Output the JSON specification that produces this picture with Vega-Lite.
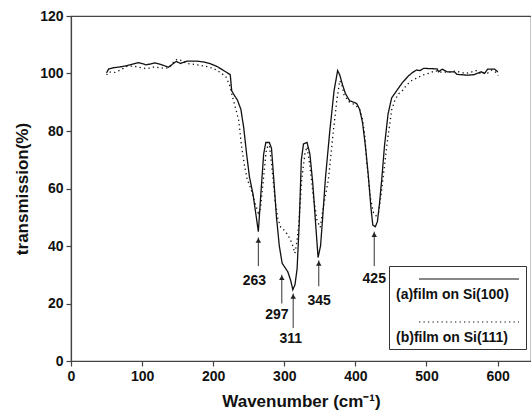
{
  "$schema": "https://vega.github.io/schema/vega-lite/v6.json",
  "width": 460,
  "height": 345,
  "autosize": {"type": "none"},
  "padding": {"left": 71, "top": 16, "right": 0, "bottom": 56},
  "background": "white",
  "config": {
    "view": {"stroke": "#444", "strokeWidth": 1.2},
    "font": "Liberation Sans"
  },
  "datasets": {
    "spectra": [
      {"s": "(a)film on Si(100)", "x": 50, "y": 100.2},
      {"s": "(a)film on Si(100)", "x": 53, "y": 101.6},
      {"s": "(a)film on Si(100)", "x": 60, "y": 102},
      {"s": "(a)film on Si(100)", "x": 69, "y": 102.3},
      {"s": "(a)film on Si(100)", "x": 76, "y": 102.6},
      {"s": "(a)film on Si(100)", "x": 83, "y": 103},
      {"s": "(a)film on Si(100)", "x": 95, "y": 103.8},
      {"s": "(a)film on Si(100)", "x": 106, "y": 103},
      {"s": "(a)film on Si(100)", "x": 118, "y": 103.7},
      {"s": "(a)film on Si(100)", "x": 128, "y": 103},
      {"s": "(a)film on Si(100)", "x": 137, "y": 102.2},
      {"s": "(a)film on Si(100)", "x": 148, "y": 104.2},
      {"s": "(a)film on Si(100)", "x": 154, "y": 103.5},
      {"s": "(a)film on Si(100)", "x": 163, "y": 104.3},
      {"s": "(a)film on Si(100)", "x": 177, "y": 104.3},
      {"s": "(a)film on Si(100)", "x": 187, "y": 104},
      {"s": "(a)film on Si(100)", "x": 196, "y": 103.4},
      {"s": "(a)film on Si(100)", "x": 205, "y": 102.5},
      {"s": "(a)film on Si(100)", "x": 213, "y": 101.3},
      {"s": "(a)film on Si(100)", "x": 224, "y": 99.6},
      {"s": "(a)film on Si(100)", "x": 226, "y": 94},
      {"s": "(a)film on Si(100)", "x": 230, "y": 92.3},
      {"s": "(a)film on Si(100)", "x": 234, "y": 90.8},
      {"s": "(a)film on Si(100)", "x": 239, "y": 87.5},
      {"s": "(a)film on Si(100)", "x": 243, "y": 81},
      {"s": "(a)film on Si(100)", "x": 247, "y": 72},
      {"s": "(a)film on Si(100)", "x": 251, "y": 64},
      {"s": "(a)film on Si(100)", "x": 256, "y": 58},
      {"s": "(a)film on Si(100)", "x": 259.5, "y": 52},
      {"s": "(a)film on Si(100)", "x": 263.5, "y": 45},
      {"s": "(a)film on Si(100)", "x": 267, "y": 58},
      {"s": "(a)film on Si(100)", "x": 271, "y": 72},
      {"s": "(a)film on Si(100)", "x": 274, "y": 76},
      {"s": "(a)film on Si(100)", "x": 279, "y": 76},
      {"s": "(a)film on Si(100)", "x": 282, "y": 74},
      {"s": "(a)film on Si(100)", "x": 285, "y": 64},
      {"s": "(a)film on Si(100)", "x": 289, "y": 50},
      {"s": "(a)film on Si(100)", "x": 293, "y": 40},
      {"s": "(a)film on Si(100)", "x": 297, "y": 34},
      {"s": "(a)film on Si(100)", "x": 301, "y": 32.5},
      {"s": "(a)film on Si(100)", "x": 305, "y": 31},
      {"s": "(a)film on Si(100)", "x": 309, "y": 28},
      {"s": "(a)film on Si(100)", "x": 312, "y": 24.8},
      {"s": "(a)film on Si(100)", "x": 315, "y": 26.5},
      {"s": "(a)film on Si(100)", "x": 318, "y": 32},
      {"s": "(a)film on Si(100)", "x": 321, "y": 48},
      {"s": "(a)film on Si(100)", "x": 324, "y": 70},
      {"s": "(a)film on Si(100)", "x": 327, "y": 75.5},
      {"s": "(a)film on Si(100)", "x": 332, "y": 76},
      {"s": "(a)film on Si(100)", "x": 336, "y": 72},
      {"s": "(a)film on Si(100)", "x": 340, "y": 62},
      {"s": "(a)film on Si(100)", "x": 344, "y": 48},
      {"s": "(a)film on Si(100)", "x": 347.5, "y": 36},
      {"s": "(a)film on Si(100)", "x": 351, "y": 40},
      {"s": "(a)film on Si(100)", "x": 354, "y": 50},
      {"s": "(a)film on Si(100)", "x": 358, "y": 64},
      {"s": "(a)film on Si(100)", "x": 364, "y": 80},
      {"s": "(a)film on Si(100)", "x": 370, "y": 94},
      {"s": "(a)film on Si(100)", "x": 375, "y": 101},
      {"s": "(a)film on Si(100)", "x": 378, "y": 99.5},
      {"s": "(a)film on Si(100)", "x": 382, "y": 96},
      {"s": "(a)film on Si(100)", "x": 386, "y": 93},
      {"s": "(a)film on Si(100)", "x": 392, "y": 90.5},
      {"s": "(a)film on Si(100)", "x": 398, "y": 90},
      {"s": "(a)film on Si(100)", "x": 402, "y": 89.5},
      {"s": "(a)film on Si(100)", "x": 406, "y": 87.5},
      {"s": "(a)film on Si(100)", "x": 410, "y": 83},
      {"s": "(a)film on Si(100)", "x": 414, "y": 75},
      {"s": "(a)film on Si(100)", "x": 418, "y": 65},
      {"s": "(a)film on Si(100)", "x": 422, "y": 53},
      {"s": "(a)film on Si(100)", "x": 424.5, "y": 47.3},
      {"s": "(a)film on Si(100)", "x": 428, "y": 46.7},
      {"s": "(a)film on Si(100)", "x": 431, "y": 48.5},
      {"s": "(a)film on Si(100)", "x": 434, "y": 55},
      {"s": "(a)film on Si(100)", "x": 437, "y": 63},
      {"s": "(a)film on Si(100)", "x": 441, "y": 75},
      {"s": "(a)film on Si(100)", "x": 446, "y": 86},
      {"s": "(a)film on Si(100)", "x": 451, "y": 91.5},
      {"s": "(a)film on Si(100)", "x": 458, "y": 94},
      {"s": "(a)film on Si(100)", "x": 466, "y": 96.8},
      {"s": "(a)film on Si(100)", "x": 474, "y": 99},
      {"s": "(a)film on Si(100)", "x": 480, "y": 100.3},
      {"s": "(a)film on Si(100)", "x": 486, "y": 101.2},
      {"s": "(a)film on Si(100)", "x": 491, "y": 101},
      {"s": "(a)film on Si(100)", "x": 496, "y": 101.8},
      {"s": "(a)film on Si(100)", "x": 515, "y": 101.6},
      {"s": "(a)film on Si(100)", "x": 517, "y": 100.6},
      {"s": "(a)film on Si(100)", "x": 522, "y": 101.5},
      {"s": "(a)film on Si(100)", "x": 529, "y": 100.6},
      {"s": "(a)film on Si(100)", "x": 539, "y": 100.6},
      {"s": "(a)film on Si(100)", "x": 543, "y": 99.7},
      {"s": "(a)film on Si(100)", "x": 558, "y": 99.4},
      {"s": "(a)film on Si(100)", "x": 567, "y": 99.6},
      {"s": "(a)film on Si(100)", "x": 577, "y": 100.6},
      {"s": "(a)film on Si(100)", "x": 581.6, "y": 100},
      {"s": "(a)film on Si(100)", "x": 586, "y": 101.5},
      {"s": "(a)film on Si(100)", "x": 596, "y": 101.5},
      {"s": "(a)film on Si(100)", "x": 600.5, "y": 100.5},
      {"s": "(b)film on Si(111)", "x": 50, "y": 99.5},
      {"s": "(b)film on Si(111)", "x": 53, "y": 100.5},
      {"s": "(b)film on Si(111)", "x": 62, "y": 100.4},
      {"s": "(b)film on Si(111)", "x": 70, "y": 101.3},
      {"s": "(b)film on Si(111)", "x": 79, "y": 102.5},
      {"s": "(b)film on Si(111)", "x": 87, "y": 102.6},
      {"s": "(b)film on Si(111)", "x": 95, "y": 102.2},
      {"s": "(b)film on Si(111)", "x": 104, "y": 101.8},
      {"s": "(b)film on Si(111)", "x": 111, "y": 101.9},
      {"s": "(b)film on Si(111)", "x": 117, "y": 102.3},
      {"s": "(b)film on Si(111)", "x": 125, "y": 102},
      {"s": "(b)film on Si(111)", "x": 133, "y": 101.8},
      {"s": "(b)film on Si(111)", "x": 139, "y": 102.2},
      {"s": "(b)film on Si(111)", "x": 146, "y": 104.6},
      {"s": "(b)film on Si(111)", "x": 151, "y": 105},
      {"s": "(b)film on Si(111)", "x": 156, "y": 104.4},
      {"s": "(b)film on Si(111)", "x": 163, "y": 103.5},
      {"s": "(b)film on Si(111)", "x": 178, "y": 103},
      {"s": "(b)film on Si(111)", "x": 190, "y": 102.5},
      {"s": "(b)film on Si(111)", "x": 200, "y": 101.8},
      {"s": "(b)film on Si(111)", "x": 210, "y": 100.4},
      {"s": "(b)film on Si(111)", "x": 218, "y": 98.8},
      {"s": "(b)film on Si(111)", "x": 223, "y": 96},
      {"s": "(b)film on Si(111)", "x": 227, "y": 92},
      {"s": "(b)film on Si(111)", "x": 232, "y": 87.5},
      {"s": "(b)film on Si(111)", "x": 236, "y": 83.5},
      {"s": "(b)film on Si(111)", "x": 240, "y": 74.5},
      {"s": "(b)film on Si(111)", "x": 244, "y": 68},
      {"s": "(b)film on Si(111)", "x": 248, "y": 63},
      {"s": "(b)film on Si(111)", "x": 253, "y": 60},
      {"s": "(b)film on Si(111)", "x": 259, "y": 54.8},
      {"s": "(b)film on Si(111)", "x": 263.5, "y": 51.5},
      {"s": "(b)film on Si(111)", "x": 266.5, "y": 53},
      {"s": "(b)film on Si(111)", "x": 270.5, "y": 63},
      {"s": "(b)film on Si(111)", "x": 275, "y": 74},
      {"s": "(b)film on Si(111)", "x": 279, "y": 75.1},
      {"s": "(b)film on Si(111)", "x": 282.5, "y": 67.6},
      {"s": "(b)film on Si(111)", "x": 287, "y": 56},
      {"s": "(b)film on Si(111)", "x": 291, "y": 49.5},
      {"s": "(b)film on Si(111)", "x": 295, "y": 46.5},
      {"s": "(b)film on Si(111)", "x": 300, "y": 45.5},
      {"s": "(b)film on Si(111)", "x": 304, "y": 44.2},
      {"s": "(b)film on Si(111)", "x": 308, "y": 42.5},
      {"s": "(b)film on Si(111)", "x": 311, "y": 40.8},
      {"s": "(b)film on Si(111)", "x": 315, "y": 37.5},
      {"s": "(b)film on Si(111)", "x": 318, "y": 42},
      {"s": "(b)film on Si(111)", "x": 320.5, "y": 48},
      {"s": "(b)film on Si(111)", "x": 324.5, "y": 63},
      {"s": "(b)film on Si(111)", "x": 329, "y": 72.2},
      {"s": "(b)film on Si(111)", "x": 332, "y": 74.5},
      {"s": "(b)film on Si(111)", "x": 336, "y": 68},
      {"s": "(b)film on Si(111)", "x": 341, "y": 57},
      {"s": "(b)film on Si(111)", "x": 346, "y": 49},
      {"s": "(b)film on Si(111)", "x": 350.5, "y": 46.5},
      {"s": "(b)film on Si(111)", "x": 355, "y": 53.7},
      {"s": "(b)film on Si(111)", "x": 362, "y": 63},
      {"s": "(b)film on Si(111)", "x": 369, "y": 80},
      {"s": "(b)film on Si(111)", "x": 374, "y": 90.8},
      {"s": "(b)film on Si(111)", "x": 378, "y": 97.5},
      {"s": "(b)film on Si(111)", "x": 381, "y": 96},
      {"s": "(b)film on Si(111)", "x": 384, "y": 92.6},
      {"s": "(b)film on Si(111)", "x": 391, "y": 90.2},
      {"s": "(b)film on Si(111)", "x": 400, "y": 89},
      {"s": "(b)film on Si(111)", "x": 406, "y": 87.5},
      {"s": "(b)film on Si(111)", "x": 410, "y": 84},
      {"s": "(b)film on Si(111)", "x": 413, "y": 79},
      {"s": "(b)film on Si(111)", "x": 416, "y": 69},
      {"s": "(b)film on Si(111)", "x": 421, "y": 57},
      {"s": "(b)film on Si(111)", "x": 425.5, "y": 51.5},
      {"s": "(b)film on Si(111)", "x": 429, "y": 50.5},
      {"s": "(b)film on Si(111)", "x": 432.5, "y": 51.4},
      {"s": "(b)film on Si(111)", "x": 437, "y": 59.5},
      {"s": "(b)film on Si(111)", "x": 444, "y": 74.5},
      {"s": "(b)film on Si(111)", "x": 451, "y": 87.3},
      {"s": "(b)film on Si(111)", "x": 456, "y": 91},
      {"s": "(b)film on Si(111)", "x": 461, "y": 93},
      {"s": "(b)film on Si(111)", "x": 466, "y": 94},
      {"s": "(b)film on Si(111)", "x": 472, "y": 96},
      {"s": "(b)film on Si(111)", "x": 479, "y": 97.5},
      {"s": "(b)film on Si(111)", "x": 486, "y": 98.4},
      {"s": "(b)film on Si(111)", "x": 495, "y": 99.5},
      {"s": "(b)film on Si(111)", "x": 505, "y": 100.2},
      {"s": "(b)film on Si(111)", "x": 512, "y": 101},
      {"s": "(b)film on Si(111)", "x": 520, "y": 100.5},
      {"s": "(b)film on Si(111)", "x": 532, "y": 100.5},
      {"s": "(b)film on Si(111)", "x": 540, "y": 100.8},
      {"s": "(b)film on Si(111)", "x": 547, "y": 100.5},
      {"s": "(b)film on Si(111)", "x": 555, "y": 100},
      {"s": "(b)film on Si(111)", "x": 563, "y": 100.5},
      {"s": "(b)film on Si(111)", "x": 570, "y": 101},
      {"s": "(b)film on Si(111)", "x": 577, "y": 99.8},
      {"s": "(b)film on Si(111)", "x": 582, "y": 100.5},
      {"s": "(b)film on Si(111)", "x": 586, "y": 100.2},
      {"s": "(b)film on Si(111)", "x": 592, "y": 101.2},
      {"s": "(b)film on Si(111)", "x": 597, "y": 100.5},
      {"s": "(b)film on Si(111)", "x": 601, "y": 99.3}
    ],
    "peaks": [
      {"label": "263", "x": 263.5, "tip": 43, "tail": 33, "lx": 258, "ly": 28},
      {"label": "297", "x": 296.5, "tip": 30, "tail": 20, "lx": 289.5, "ly": 16},
      {"label": "311", "x": 312.5, "tip": 23.5, "tail": 11.5, "lx": 309, "ly": 7.5},
      {"label": "345", "x": 348.5, "tip": 35, "tail": 26, "lx": 349, "ly": 21},
      {"label": "425", "x": 426.5, "tip": 45, "tail": 33, "lx": 426.5, "ly": 28.5}
    ]
  },
  "layer": [
    {
      "data": {"name": "spectra"},
      "mark": {"type": "line", "stroke": "#111", "strokeWidth": 1.3, "clip": true},
      "encoding": {
        "x": {
          "field": "x", "type": "quantitative",
          "scale": {"domain": [0, 647], "nice": false, "zero": false},
          "axis": {
            "values": [0, 50, 100, 150, 200, 250, 300, 350, 400, 450, 500, 550, 600],
            "labelExpr": "datum.value % 100 === 0 ? datum.label : ''",
            "tickSize": {"condition": {"test": "datum.value % 100 === 0", "value": 5}, "value": 3},
            "grid": false,
            "domainColor": "#444", "domainWidth": 1.2,
            "tickColor": "#444", "tickWidth": 1.2,
            "labelFont": "Liberation Sans", "labelFontWeight": "bold", "labelFontSize": 14, "labelColor": "#111",
            "labelPadding": 3, "labelFlush": false,
            "title": "Wavenumber (cm⁻¹)",
            "titleFont": "Liberation Sans", "titleFontWeight": "bold", "titleFontSize": 17, "titleColor": "#111",
            "titlePadding": 10
          }
        },
        "y": {
          "field": "y", "type": "quantitative",
          "scale": {"domain": [0, 120], "nice": false},
          "axis": {
            "values": [0, 10, 20, 30, 40, 50, 60, 70, 80, 90, 100, 110, 120],
            "labelExpr": "datum.value % 20 === 0 ? datum.label : ''",
            "tickSize": {"condition": {"test": "datum.value % 20 === 0", "value": 5}, "value": 3},
            "grid": false,
            "domainColor": "#444", "domainWidth": 1.2,
            "tickColor": "#444", "tickWidth": 1.2,
            "labelFont": "Liberation Sans", "labelFontWeight": "bold", "labelFontSize": 14, "labelColor": "#111",
            "labelPadding": 3, "labelFlush": false,
            "title": "transmission(%)",
            "titleFont": "Liberation Sans", "titleFontWeight": "bold", "titleFontSize": 17, "titleColor": "#111",
            "titlePadding": 8
          }
        },
        "strokeDash": {
          "field": "s", "type": "nominal",
          "scale": {"domain": ["(a)film on Si(100)", "(b)film on Si(111)"], "range": [[1, 0], [1.3, 3.2]]},
          "legend": {
            "title": " ",
            "titleFontSize": 9,
            "titlePadding": 2,
            "orient": "none",
            "legendX": 318,
            "legendY": 250,
            "direction": "vertical",
            "strokeColor": "#333",
            "fillColor": "white",
            "padding": 4,
            "symbolType": "M-1,-1.8H19",
            "symbolSize": 100,
            "symbolStrokeWidth": 1.2,
            "symbolStrokeColor": "#111",
            "symbolFillColor": "transparent",
            "symbolOffset": 24,
            "labelOffset": -35,
            "labelBaseline": "top",
            "labelFont": "Liberation Sans",
            "labelFontWeight": "bold",
            "labelFontSize": 14,
            "labelColor": "#111",
            "labelLimit": 300,
            "rowPadding": 17
          }
        }
      }
    },
    {
      "data": {"name": "peaks"},
      "mark": {"type": "rule", "stroke": "#333", "strokeWidth": 1},
      "encoding": {
        "x": {"field": "x", "type": "quantitative"},
        "y": {"field": "tail", "type": "quantitative"},
        "y2": {"field": "tip"}
      }
    },
    {
      "data": {"name": "peaks"},
      "mark": {"type": "point", "shape": "triangle-up", "filled": true, "fill": "#222", "size": 30, "opacity": 1, "yOffset": 3},
      "encoding": {
        "x": {"field": "x", "type": "quantitative"},
        "y": {"field": "tip", "type": "quantitative"}
      }
    },
    {
      "data": {"name": "peaks"},
      "mark": {"type": "text", "font": "Liberation Sans", "fontWeight": "bold", "fontSize": 14, "fill": "#111", "align": "center", "baseline": "middle"},
      "encoding": {
        "x": {"field": "lx", "type": "quantitative"},
        "y": {"field": "ly", "type": "quantitative"},
        "text": {"field": "label"}
      }
    }
  ]
}
